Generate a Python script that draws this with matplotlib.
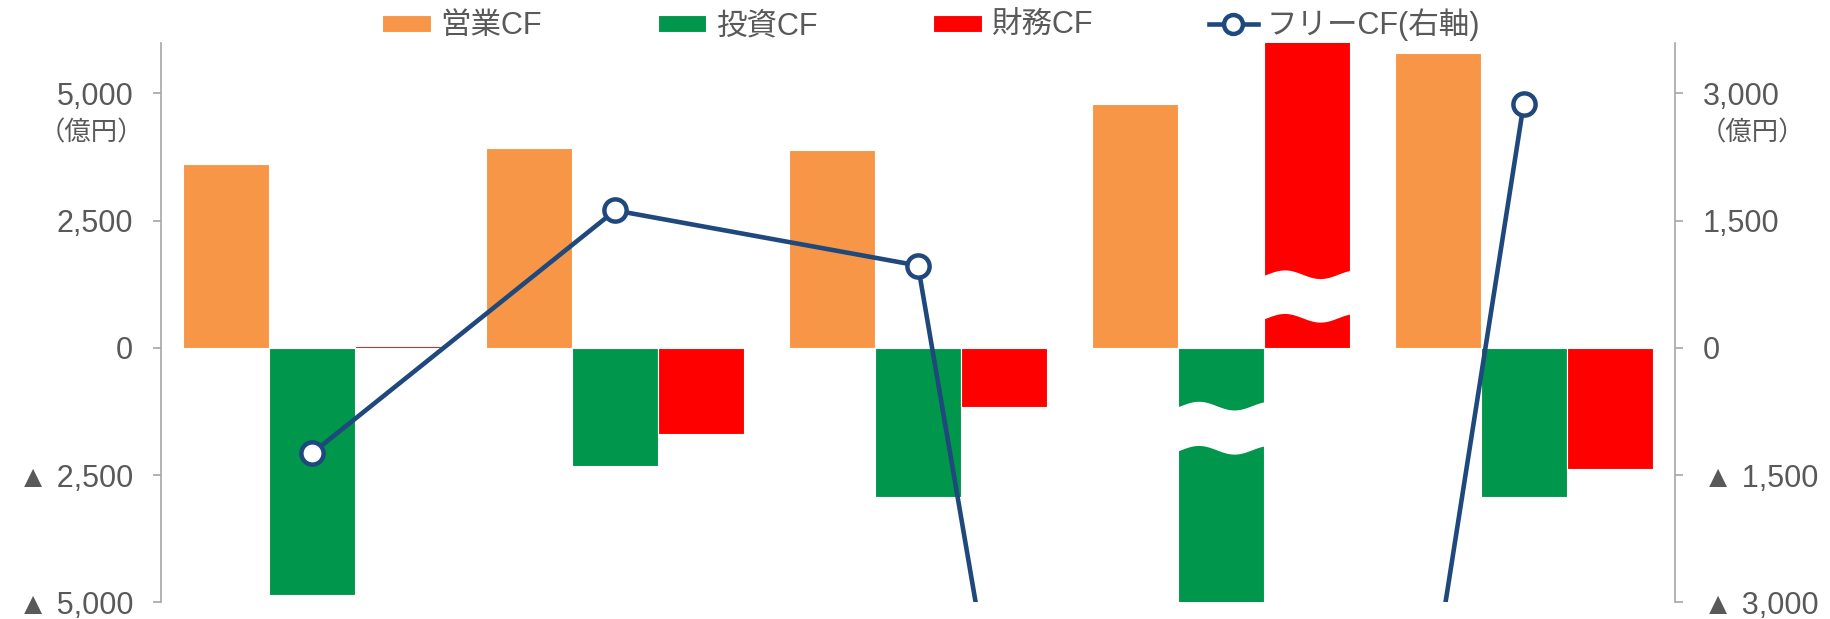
import numpy as np
import matplotlib
matplotlib.use('Agg')
import matplotlib.pyplot as plt

# ---- data (億円) ----
categories = ['FY1', 'FY2', 'FY3', 'FY4', 'FY5']
operating_cf = [3620, 3920, 3880, 4790, 5800]
investing_cf = [-4860, -2320, -2940, -24700, -2940]
financing_cf = [30, -1700, -1170, 21000, -2390]
free_cf = [-1240, 1620, 970, -19900, 2870]
series_names = ['営業CF', '投資CF', '財務CF', 'フリーCF(右軸)']
left_ticks = [-5000, -2500, 0, 2500, 5000]
left_ticklabels = ['▲ 5,000', '▲ 2,500', '0', '2,500', '5,000']
right_ticks = [-3000, -1500, 0, 1500, 3000]
right_ticklabels = ['▲ 3,000', '▲ 1,500', '0', '1,500', '3,000']
unit_label = '（億円）'

plt.rcParams['font.family'] = ['Liberation Sans', 'Noto Sans CJK JP', 'DejaVu Sans']

C_OR, C_GR, C_RD, C_NV = '#F79646', '#00964B', '#FF0000', '#1F497D'
C_TXT, C_AX = '#595959', '#A6A6A6'

fig = plt.figure(figsize=(18.3, 6.19), dpi=100)
ax = fig.add_axes([0.088, 0.0271, 0.8273, 0.9042])
x = np.arange(len(categories))
w = 0.284
bo = ax.bar(x - w, operating_cf, w, color=C_OR, edgecolor='white', linewidth=0.8, zorder=2)
bi = ax.bar(x, investing_cf, w, color=C_GR, edgecolor='white', linewidth=0.8, zorder=2)
bf = ax.bar(x + w, financing_cf, w, color=C_RD, edgecolor='white', linewidth=0.8, zorder=2)
ax.set_xlim(-0.5, 4.5)
ax.set_ylim(-5000, 6000)


def wave_break(axis, xl, xr, top_c, bot_c, amp=85):
    t = np.linspace(0, 1, 200)
    xx = xl + (xr - xl) * t
    off = amp * np.cos(2 * np.pi * (t - 0.25) / 0.8)
    axis.fill_between(xx, bot_c + off, top_c + off, color='white', lw=0, zorder=3)


# break marks on the out-of-range bars (FY4)
wave_break(ax, 3 + w / 2 - 0.005, 3 + 1.5 * w + 0.005, 1446, 590)
wave_break(ax, 3 - w / 2 - 0.005, 3 + w / 2 + 0.005, -1136, -2004)

ax.set_yticks(left_ticks)
ax.set_yticklabels(left_ticklabels)
ax.set_xticks([])
for s in ['top', 'bottom', 'right']:
    ax.spines[s].set_visible(False)
ax.spines['left'].set_color(C_AX)
ax.spines['left'].set_linewidth(1.2)
ax.tick_params(axis='y', length=6, width=1.2, color=C_AX, labelsize=22,
               labelcolor=C_TXT, pad=14)

ax2 = ax.twinx()
ln, = ax2.plot(x, free_cf, color=C_NV, lw=3.3, marker='o', ms=16, mfc='white',
               mec=C_NV, mew=3.2, zorder=5)
ax2.set_ylim(-3000, 3600)
ax2.set_yticks(right_ticks)
ax2.set_yticklabels(right_ticklabels)
for s in ['top', 'bottom', 'left']:
    ax2.spines[s].set_visible(False)
ax2.spines['right'].set_color(C_AX)
ax2.spines['right'].set_linewidth(1.2)
ax2.tick_params(axis='y', length=6, width=1.2, color=C_AX, labelsize=22,
                labelcolor=C_TXT, pad=14)

fig.text(0.0787, 0.786, unit_label, ha='right', va='center', fontsize=19, color=C_TXT)
fig.text(0.929, 0.785, unit_label, ha='left', va='center', fontsize=19, color=C_TXT)

fig.legend(handles=[bo, bi, bf, ln], labels=series_names, loc='center left',
           bbox_to_anchor=(0.2087, 0.96), ncol=4, frameon=False, fontsize=22,
           borderpad=0, borderaxespad=0,
           handlelength=1.6, handleheight=0.5, handletextpad=0.3,
           columnspacing=3.8, markerscale=0.85, labelcolor=C_TXT)

fig.savefig('out.png', dpi=100)
